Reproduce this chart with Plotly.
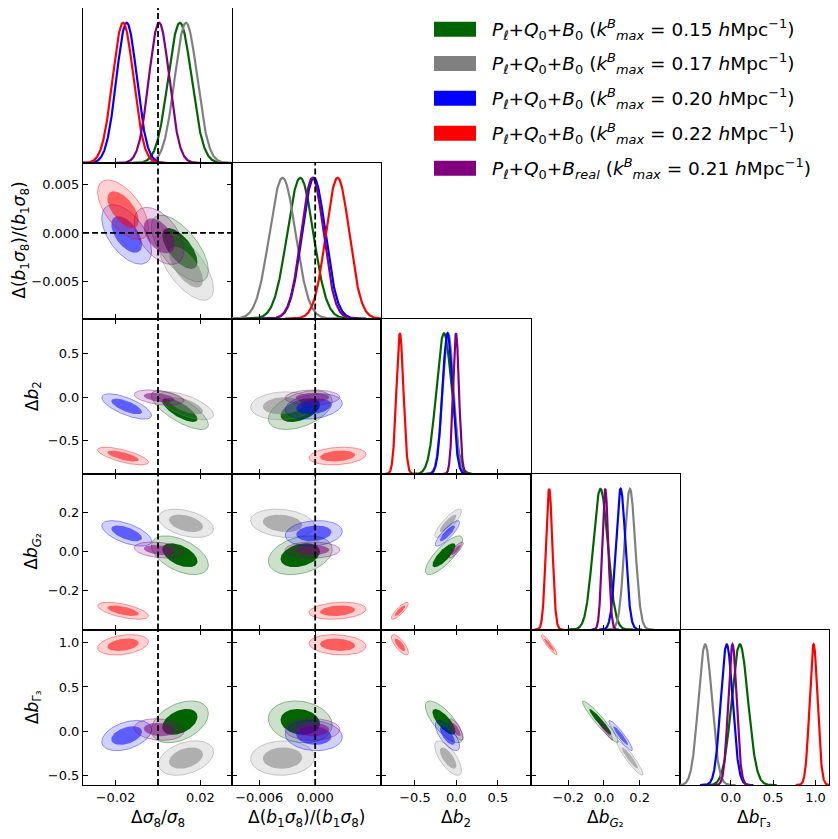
import numpy as np
import plotly.graph_objects as go

# ---------------- data ----------------
kmax_values = ["0.15", "0.17", "0.20", "0.22", "0.21"]
bispec_tags = ["0", "0", "0", "0", "<i>real</i>"]
series_colors = ["#006400", "#808080", "#0000ff", "#ff0000", "#800080"]

param_titles = [
    "Δ<i>σ</i><sub>8</sub>/<i>σ</i><sub>8</sub>",
    "Δ(<i>b</i><sub>1</sub><i>σ</i><sub>8</sub>)/(<i>b</i><sub>1</sub><i>σ</i><sub>8</sub>)",
    "Δ<i>b</i><sub>2</sub>",
    "Δ<i>b</i><sub><i>G</i>₂</sub>",
    "Δ<i>b</i><sub>Γ₃</sub>",
]

# order: green(0.15), gray(0.17), blue(0.20), red(0.22), purple(real 0.21)
mean_s8 = [0.0103, 0.0132, -0.0148, -0.0165, 0.0005]
sd_s8 = [0.0055, 0.0053, 0.0048, 0.0049, 0.0048]
mean_b1s8 = [-0.0016, -0.0035, -0.00015, 0.0024, -0.0003]
sd_b1s8 = [0.0014, 0.0014, 0.00125, 0.00125, 0.0012]
mean_b2 = [-0.15, -0.10, -0.108, -0.682, -0.005]
sd_b2 = [0.092, 0.066, 0.060, 0.042, 0.036]
mean_bG2 = [-0.02, 0.145, 0.093, -0.307, 0.007]
sd_bG2 = [0.041, 0.030, 0.027, 0.018, 0.017]
mean_bG3 = [0.105, -0.305, -0.05, 0.978, 0.018]
sd_bG3 = [0.097, 0.080, 0.070, 0.047, 0.050]

corr_s8_b1s8 = [-0.65, -0.65, -0.55, -0.6, -0.5]
corr_s8_b2 = [-0.75, -0.65, -0.7, -0.7, -0.4]
corr_b1s8_b2 = [0.45, 0.1, 0.25, 0.2, 0.05]
corr_s8_bG2 = [-0.5, -0.4, -0.6, -0.6, -0.3]
corr_b1s8_bG2 = [0.3, -0.2, 0.15, 0.2, 0.0]
corr_b2_bG2 = [0.8, 0.85, 0.85, 0.85, 0.85]
corr_s8_bG3 = [0.4, 0.35, 0.4, 0.3, -0.15]
corr_b1s8_bG3 = [-0.15, 0.05, -0.1, -0.15, 0.0]
corr_b2_bG3 = [-0.75, -0.7, -0.7, -0.75, -0.75]
corr_bG2_bG3 = [-0.95, -0.93, -0.93, -0.93, -0.95]

truth_s8 = 0.0
truth_b1s8 = 0.0
contour_levels = [0.95, 0.68]

x_tickvals = [[-0.02, 0.02], [-0.006, 0.0], [-0.5, 0.0, 0.5], [-0.2, 0.0, 0.2], [0.0, 0.5, 1.0]]
x_ticktext = [["−0.02", "0.02"], ["−0.006", "0.000"], ["−0.5", "0.0", "0.5"],
              ["−0.2", "0.0", "0.2"], ["0.0", "0.5", "1.0"]]
y_tickvals = [[], [-0.005, 0.0, 0.005], [-0.5, 0.0, 0.5], [-0.2, 0.0, 0.2], [-0.5, 0.0, 0.5, 1.0]]
y_ticktext = [[], ["−0.005", "0.000", "0.005"], ["−0.5", "0.0", "0.5"],
              ["−0.2", "0.0", "0.2"], ["−0.5", "0.0", "0.5", "1.0"]]

# ---------------- layout config ----------------
OFF = 8  # page body margin
W, H = 838 - 2 * OFF, 839 - 2 * OFF
col_edges = [83, 232.2, 381.4, 530.6, 679.8, 829]
row_edges = [7.5, 163, 318.5, 474, 629.5, 785]
x_ranges = [[-0.0354, 0.035], [-0.0089, 0.0071], [-0.905, 0.895], [-0.411, 0.4245], [-0.605, 1.16]]
y_ranges = [None, [-0.0088, 0.0072], [-0.89, 0.91], [-0.404, 0.40], [-0.61, 1.151]]
FONT = "DejaVu Sans"


def px(v):
    return min(max((v - OFF) / W, 0.0), 1.0)


def py(v):
    return min(max(1 - (v - OFF) / H, 0.0), 1.0)


means = [mean_s8, mean_b1s8, mean_b2, mean_bG2, mean_bG3]
sds = [sd_s8, sd_b1s8, sd_b2, sd_bG2, sd_bG3]
corr = {
    (0, 1): corr_s8_b1s8, (0, 2): corr_s8_b2, (1, 2): corr_b1s8_b2,
    (0, 3): corr_s8_bG2, (1, 3): corr_b1s8_bG2, (2, 3): corr_b2_bG2,
    (0, 4): corr_s8_bG3, (1, 4): corr_b1s8_bG3, (2, 4): corr_b2_bG3, (3, 4): corr_bG2_bG3,
}
nser = len(series_colors)
npar = len(means)


def rgba(hexc, a):
    h = hexc.lstrip("#")
    r, g, b = int(h[0:2], 16), int(h[2:4], 16), int(h[4:6], 16)
    return f"rgba({r},{g},{b},{a})"


def ellipse(mx, my, sx, sy, rho, k, npts=160):
    t = np.linspace(0, 2 * np.pi, npts)
    x = mx + k * sx * np.cos(t)
    y = my + k * sy * (rho * np.cos(t) + np.sqrt(1 - rho ** 2) * np.sin(t))
    return x, y


fig = go.Figure()
layout = dict(width=W, height=H, margin=dict(l=0, r=0, t=0, b=0),
              paper_bgcolor="white", plot_bgcolor="white", showlegend=False,
              font=dict(family=FONT, size=13, color="black"))
shapes = []
annotations = []

k = 0
for r in range(npar):
    for c in range(r + 1):
        k += 1
        xname = "xaxis" if k == 1 else f"xaxis{k}"
        yname = "yaxis" if k == 1 else f"yaxis{k}"
        xref = "x" if k == 1 else f"x{k}"
        yref = "y" if k == 1 else f"y{k}"
        diag = (r == c)
        xd = [px(col_edges[c]), px(col_edges[c + 1])]
        yd = [py(row_edges[r + 1]), py(row_edges[r])]
        layout[xname] = dict(domain=xd, anchor=yref, range=x_ranges[c], showgrid=False,
                             zeroline=False, showline=True, linecolor="black", linewidth=1,
                             mirror=True if diag else "ticks", ticks="inside", ticklen=5,
                             tickwidth=1, tickcolor="black", tickmode="array",
                             tickvals=x_tickvals[c], ticktext=x_ticktext[c],
                             showticklabels=(r == npar - 1),
                             tickfont=dict(family=FONT, size=13, color="black"))
        if diag:
            layout[yname] = dict(domain=yd, anchor=xref, range=[0, 1.105], showgrid=False,
                                 zeroline=False, showline=True, linecolor="black", linewidth=1,
                                 mirror=True, ticks="", showticklabels=False)
        else:
            layout[yname] = dict(domain=yd, anchor=xref, range=y_ranges[r], showgrid=False,
                                 zeroline=False, showline=True, linecolor="black", linewidth=1,
                                 mirror="ticks", ticks="inside", ticklen=5, tickwidth=1,
                                 tickcolor="black", tickmode="array",
                                 tickvals=y_tickvals[r], ticktext=y_ticktext[r],
                                 showticklabels=(c == 0),
                                 tickfont=dict(family=FONT, size=13, color="black"))

        if diag:
            for s in range(nser):
                mu, sd = means[c][s], sds[c][s]
                xs = np.linspace(mu - 4.5 * sd, mu + 4.5 * sd, 300)
                ys = np.exp(-0.5 * ((xs - mu) / sd) ** 2)
                fig.add_trace(go.Scatter(x=xs, y=ys, mode="lines", xaxis=xref, yaxis=yref,
                                         line=dict(color=series_colors[s], width=2.2),
                                         hoverinfo="skip"))
        else:
            rho_list = corr[(c, r)]
            for s in range(nser):
                for lev in contour_levels:
                    kk = np.sqrt(-2 * np.log(1 - lev))
                    ex, ey = ellipse(means[c][s], means[r][s], sds[c][s], sds[r][s],
                                     rho_list[s], kk)
                    if s == 0:
                        fill = rgba(series_colors[s], 0.2 if lev > 0.9 else 1.0)
                    else:
                        fill = rgba(series_colors[s], 0.18 if lev > 0.9 else 0.55)
                    edge = rgba(series_colors[s], 0.45 if lev > 0.9 else 0.0)
                    fig.add_trace(go.Scatter(x=ex, y=ey, mode="lines", fill="toself",
                                             fillcolor=fill, xaxis=xref, yaxis=yref,
                                             line=dict(color=edge, width=0.9),
                                             hoverinfo="skip"))

        # truth markers
        if c == 0:
            shapes.append(dict(type="line", xref=xref, yref=f"{yref} domain",
                               x0=truth_s8, x1=truth_s8, y0=0, y1=1,
                               line=dict(color="black", width=1.8, dash="6px,3px")))
        if c == 1:
            shapes.append(dict(type="line", xref=xref, yref=f"{yref} domain",
                               x0=truth_b1s8, x1=truth_b1s8, y0=0, y1=1,
                               line=dict(color="black", width=1.8, dash="6px,3px")))
        if r == 1 and c == 0:
            shapes.append(dict(type="line", xref=f"{xref} domain", yref=yref,
                               x0=0, x1=1, y0=truth_b1s8, y1=truth_b1s8,
                               line=dict(color="black", width=1.8, dash="6px,3px")))

# axis titles
for c in range(npar):
    xc = px((col_edges[c] + col_edges[c + 1]) / 2)
    annotations.append(dict(text=param_titles[c], x=xc, y=py(818), xref="paper", yref="paper",
                            showarrow=False, xanchor="center", yanchor="middle",
                            font=dict(family=FONT, size=17, color="black")))
y_title_x = [None, 21, 33, 33, 33]
for r in range(1, npar):
    yc = py((row_edges[r] + row_edges[r + 1]) / 2)
    annotations.append(dict(text=param_titles[r], x=px(y_title_x[r]), y=yc, xref="paper",
                            yref="paper", showarrow=False, textangle=-90,
                            xanchor="center", yanchor="middle",
                            font=dict(family=FONT, size=17, color="black")))

# legend (manual)
leg_y = [29.3, 63.5, 98.3, 133.3, 168.3]
for s in range(nser):
    yc = leg_y[s]
    shapes.append(dict(type="rect", xref="paper", yref="paper",
                       x0=px(434), x1=px(476), y0=py(yc + 7.5), y1=py(yc - 7.5),
                       fillcolor=series_colors[s], line=dict(width=0)))
    label = (f"<i>P</i><sub><i>ℓ</i></sub>+<i>Q</i><sub>0</sub>+<i>B</i><sub>{bispec_tags[s]}</sub>"
             f" (<i>k</i><sup><i>B</i></sup><sub><i>max</i></sub> = {kmax_values[s]} "
             f"<i>h</i>Mpc<sup>−1</sup>)")
    annotations.append(dict(text=label, x=px(490), y=py(yc), xref="paper", yref="paper",
                            showarrow=False, xanchor="left", yanchor="middle",
                            font=dict(family=FONT, size=18.5, color="black")))

layout["shapes"] = shapes
layout["annotations"] = annotations
fig.update_layout(**layout)
fig.write_html("out.html")
